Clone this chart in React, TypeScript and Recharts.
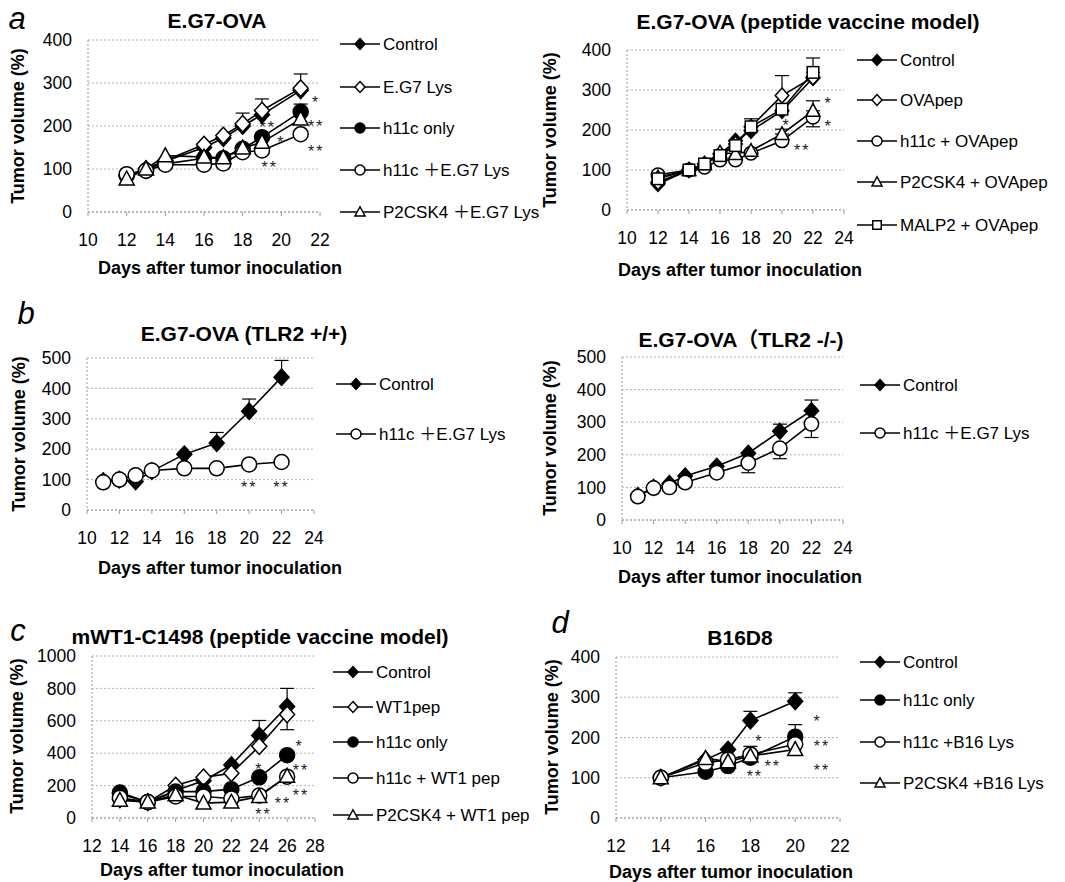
import React from 'react';
import { LineChart, Line, XAxis, YAxis, CartesianGrid, ErrorBar, Legend, ReferenceDot } from 'recharts';

const FONT = '"Liberation Sans", Arial, "Noto Sans CJK JP", sans-serif';

// ---------- Panel a (left): E.G7-OVA ----------
const a1Days = [12, 13, 14, 16, 17, 18, 19, 21];
const a1Control = [82, 97, 118, 150, 172, 200, 226, 283];
const a1Eg7Lys = [85, 100, 120, 157, 178, 205, 236, 288];
const a1H11cOnly = [85, 96, 112, 125, 125, 147, 174, 233];
const a1H11cEg7Lys = [88, 96, 110, 110, 113, 139, 143, 181];
const a1P2csk4Eg7Lys = [77, 100, 131, 128, 126, 149, 162, 216];
const a1Eg7LysUp = [0, 0, 0, 0, 0, 25, 27, 33];
const a1H11cOnlyUp = [0, 0, 0, 0, 0, 0, 0, 18];

// ---------- Panel a (right): peptide vaccine model ----------
const a2Days = [12, 14, 15, 16, 17, 18, 20, 22];
const a2Control = [65, 100, 115, 140, 173, 198, 248, 330];
const a2OvaPep = [70, 100, 115, 140, 165, 208, 286, 332];
const a2H11cOvaPep = [88, 100, 107, 125, 125, 142, 173, 232];
const a2P2csk4OvaPep = [82, 100, 115, 144, 140, 148, 190, 248];
const a2Malp2OvaPep = [78, 100, 115, 136, 161, 208, 252, 344];
const a2OvaPepUp = [0, 0, 0, 0, 0, 0, 50, 0];
const a2Malp2Up = [0, 0, 0, 0, 0, 20, 0, 36];
const a2P2csk4Up = [0, 0, 0, 0, 0, 0, 12, 25];
const a2H11cLo = [0, 0, 0, 0, 0, 0, 0, 24];

// ---------- Panel b (left): TLR2 +/+ ----------
const b1Days = [11, 12, 13, 14, 16, 18, 20, 22];
const b1Control = [95, 100, 94, 128, 183, 220, 325, 437];
const b1H11cEg7Lys = [91, 100, 114, 130, 137, 137, 150, 158];
const b1ControlUp = [0, 0, 0, 0, 0, 35, 40, 55];

// ---------- Panel b (right): TLR2 -/- ----------
const b2Days = [11, 12, 13, 14, 16, 18, 20, 22];
const b2Control = [75, 100, 112, 135, 165, 205, 272, 335];
const b2H11cEg7Lys = [72, 98, 100, 115, 145, 175, 220, 295];
const b2ControlUp = [0, 0, 0, 0, 0, 0, 22, 33];
const b2H11cLo = [0, 0, 0, 0, 0, 30, 32, 42];

// ---------- Panel c: mWT1-C1498 ----------
const cDays = [14, 16, 18, 20, 22, 24, 26];
const cControl = [150, 98, 170, 230, 327, 510, 688];
const cWt1Pep = [115, 98, 200, 251, 276, 443, 639];
const cH11cOnly = [157, 98, 163, 163, 178, 251, 388];
const cH11cWt1Pep = [125, 98, 133, 133, 120, 139, 255];
const cP2csk4Wt1Pep = [110, 98, 143, 92, 98, 133, 258];
const cControlUp = [0, 0, 0, 0, 0, 92, 112];
const cWt1PepLo = [0, 0, 0, 0, 0, 0, 94];

// ---------- Panel d: B16D8 ----------
const dDays = [14, 16, 17, 18, 20];
const dControl = [100, 145, 170, 242, 290];
const dH11cOnly = [100, 115, 129, 150, 202];
const dH11cB16Lys = [100, 137, 145, 158, 183];
const dP2csk4B16Lys = [100, 148, 140, 154, 170];
const dControlUp = [0, 0, 0, 23, 21];
const dH11cOnlyUp = [0, 0, 0, 0, 30];
const dH11cB16Up = [0, 0, 0, 20, 0];

type Shape = 'fdiamond' | 'odiamond' | 'fcircle' | 'ocircle' | 'triangle' | 'square';

interface SeriesDef {
  key: string;
  name: string;
  shape: Shape;
  values: number[];
  up?: number[];
  lo?: number[];
}

interface Star { x: number; y: number; t: string }

interface PanelDef {
  id: string;
  days: number[];
  series: SeriesDef[];
  plot: { l: number; r: number; t: number; b: number };
  xDomain: [number, number];
  xTicks: number[];
  yDomain: [number, number];
  yTicks: number[];
  size: number;
  legend: { x: number; ys: number[] };
  stars: Star[];
}

function Marker({ cx, cy, shape, size }: { cx: number; cy: number; shape: Shape; size: number }) {
  const s = size;
  const sw = 1.5;
  if (cx == null || cy == null || isNaN(cx) || isNaN(cy)) return null;
  switch (shape) {
    case 'fdiamond':
      return <polygon points={`${cx},${cy - s * 1.1} ${cx + s},${cy} ${cx},${cy + s * 1.1} ${cx - s},${cy}`} fill="#000" stroke="#000" strokeWidth={sw} />;
    case 'odiamond':
      return <polygon points={`${cx},${cy - s * 1.1} ${cx + s},${cy} ${cx},${cy + s * 1.1} ${cx - s},${cy}`} fill="#fff" stroke="#000" strokeWidth={sw} />;
    case 'fcircle':
      return <circle cx={cx} cy={cy} r={s} fill="#000" stroke="#000" strokeWidth={sw} />;
    case 'ocircle':
      return <circle cx={cx} cy={cy} r={s} fill="#fff" stroke="#000" strokeWidth={sw} />;
    case 'triangle':
      return <polygon points={`${cx},${cy - s * 1.05} ${cx + s},${cy + s * 0.8} ${cx - s},${cy + s * 0.8}`} fill="#fff" stroke="#000" strokeWidth={sw} />;
    case 'square':
      return <rect x={cx - s * 0.85} y={cy - s * 0.85} width={s * 1.7} height={s * 1.7} fill="#fff" stroke="#000" strokeWidth={sw} />;
    default:
      return null;
  }
}

const panels: PanelDef[] = [
  {
    id: 'a1',
    days: a1Days,
    series: [
      { key: 'control', name: 'Control', shape: 'fdiamond', values: a1Control },
      { key: 'eg7', name: 'E.G7 Lys', shape: 'odiamond', values: a1Eg7Lys, up: a1Eg7LysUp },
      { key: 'h11c', name: 'h11c only', shape: 'fcircle', values: a1H11cOnly, up: a1H11cOnlyUp },
      { key: 'h11cEg7', name: 'h11c ＋E.G7 Lys', shape: 'ocircle', values: a1H11cEg7Lys },
      { key: 'p2Eg7', name: 'P2CSK4 ＋E.G7 Lys', shape: 'triangle', values: a1P2csk4Eg7Lys },
    ],
    plot: { l: 88, r: 320, t: 40, b: 212 },
    xDomain: [10, 22],
    xTicks: [10, 12, 14, 16, 18, 20, 22],
    yDomain: [0, 400],
    yTicks: [0, 100, 200, 300, 400],
    size: 7.5,
    legend: { x: 340, ys: [44, 87, 128, 170, 212] },
    stars: [
      { x: 19.3, y: 205, t: '**' },
      { x: 20.0, y: 170, t: '*' },
      { x: 19.4, y: 112, t: '**' },
      { x: 21.8, y: 262, t: '*' },
      { x: 21.8, y: 207, t: '**' },
      { x: 21.8, y: 150, t: '**' },
    ],
  },
  {
    id: 'a2',
    days: a2Days,
    series: [
      { key: 'control', name: 'Control', shape: 'fdiamond', values: a2Control },
      { key: 'ova', name: 'OVApep', shape: 'odiamond', values: a2OvaPep, up: a2OvaPepUp },
      { key: 'h11cOva', name: 'h11c + OVApep', shape: 'ocircle', values: a2H11cOvaPep, lo: a2H11cLo },
      { key: 'p2Ova', name: 'P2CSK4 + OVApep', shape: 'triangle', values: a2P2csk4OvaPep, up: a2P2csk4Up },
      { key: 'malp2Ova', name: 'MALP2 + OVApep', shape: 'square', values: a2Malp2OvaPep, up: a2Malp2Up },
    ],
    plot: { l: 627, r: 844, t: 50, b: 210 },
    xDomain: [10, 24],
    xTicks: [10, 12, 14, 16, 18, 20, 22, 24],
    yDomain: [0, 400],
    yTicks: [0, 100, 200, 300, 400],
    size: 6.8,
    legend: { x: 857, ys: [60, 100, 141, 182, 225] },
    stars: [
      { x: 23.0, y: 275, t: '*' },
      { x: 23.0, y: 217, t: '*' },
      { x: 20.3, y: 220, t: '*' },
      { x: 21.3, y: 158, t: '**' },
    ],
  },
  {
    id: 'b1',
    days: b1Days,
    series: [
      { key: 'control', name: 'Control', shape: 'fdiamond', values: b1Control, up: b1ControlUp },
      { key: 'h11cEg7', name: 'h11c ＋E.G7 Lys', shape: 'ocircle', values: b1H11cEg7Lys },
    ],
    plot: { l: 87, r: 314, t: 358, b: 510 },
    xDomain: [10, 24],
    xTicks: [10, 12, 14, 16, 18, 20, 22, 24],
    yDomain: [0, 500],
    yTicks: [0, 100, 200, 300, 400, 500],
    size: 7.5,
    legend: { x: 336, ys: [384, 434] },
    stars: [
      { x: 20, y: 85, t: '**' },
      { x: 22, y: 85, t: '**' },
    ],
  },
  {
    id: 'b2',
    days: b2Days,
    series: [
      { key: 'control', name: 'Control', shape: 'fdiamond', values: b2Control, up: b2ControlUp },
      { key: 'h11cEg7', name: 'h11c ＋E.G7 Lys', shape: 'ocircle', values: b2H11cEg7Lys, lo: b2H11cLo },
    ],
    plot: { l: 622, r: 843, t: 357, b: 520 },
    xDomain: [10, 24],
    xTicks: [10, 12, 14, 16, 18, 20, 22, 24],
    yDomain: [0, 500],
    yTicks: [0, 100, 200, 300, 400, 500],
    size: 7.2,
    legend: { x: 860, ys: [385, 433] },
    stars: [],
  },
  {
    id: 'c',
    days: cDays,
    series: [
      { key: 'control', name: 'Control', shape: 'fdiamond', values: cControl, up: cControlUp },
      { key: 'wt1', name: 'WT1pep', shape: 'odiamond', values: cWt1Pep, lo: cWt1PepLo },
      { key: 'h11c', name: 'h11c only', shape: 'fcircle', values: cH11cOnly },
      { key: 'h11cWt1', name: 'h11c + WT1 pep', shape: 'ocircle', values: cH11cWt1Pep },
      { key: 'p2Wt1', name: 'P2CSK4 + WT1 pep', shape: 'triangle', values: cP2csk4Wt1Pep },
    ],
    plot: { l: 92, r: 315, t: 656, b: 818 },
    xDomain: [12, 28],
    xTicks: [12, 14, 16, 18, 20, 22, 24, 26, 28],
    yDomain: [0, 1000],
    yTicks: [0, 200, 400, 600, 800, 1000],
    size: 7.5,
    legend: { x: 333, ys: [672, 707, 742, 778, 815] },
    stars: [
      { x: 24, y: 322, t: '*' },
      { x: 26.9, y: 463, t: '*' },
      { x: 27.0, y: 315, t: '**' },
      { x: 27.0, y: 162, t: '**' },
      { x: 25.7, y: 111, t: '**' },
      { x: 24.3, y: 45, t: '**' },
    ],
  },
  {
    id: 'd',
    days: dDays,
    series: [
      { key: 'control', name: 'Control', shape: 'fdiamond', values: dControl, up: dControlUp },
      { key: 'h11c', name: 'h11c only', shape: 'fcircle', values: dH11cOnly, up: dH11cOnlyUp },
      { key: 'h11cB16', name: 'h11c +B16 Lys', shape: 'ocircle', values: dH11cB16Lys, up: dH11cB16Up },
      { key: 'p2B16', name: 'P2CSK4 +B16 Lys', shape: 'triangle', values: dP2csk4B16Lys },
    ],
    plot: { l: 616, r: 840, t: 657, b: 818 },
    xDomain: [12, 22],
    xTicks: [12, 14, 16, 18, 20, 22],
    yDomain: [0, 400],
    yTicks: [0, 100, 200, 300, 400],
    size: 7.5,
    legend: { x: 860, ys: [662, 700, 742, 783] },
    stars: [
      { x: 21.0, y: 248, t: '*' },
      { x: 21.2, y: 186, t: '**' },
      { x: 21.2, y: 127, t: '**' },
      { x: 18.4, y: 199, t: '*' },
      { x: 19.0, y: 137, t: '**' },
      { x: 18.2, y: 112, t: '**' },
    ],
  },
];

const YW = 60;
const MT = 12;
const XH = 50;

function Panel({ p }: { p: PanelDef }) {
  const chartLeft = p.plot.l - YW;
  const chartTop = p.plot.t - MT;
  const width = Math.min(p.legend.x + 205, 1062) - chartLeft;
  const height = MT + (p.plot.b - p.plot.t) + XH;
  const marginRight = width - (p.plot.r - chartLeft);

  const data = p.days.map((d, i) => {
    const row: Record<string, unknown> = { day: d };
    p.series.forEach((s) => {
      row[s.key] = s.values[i];
      const up = s.up ? s.up[i] : 0;
      const lo = s.lo ? s.lo[i] : 0;
      if (up || lo) row[s.key + 'Err'] = [lo, up];
    });
    return row;
  });

  const axisStyle = { stroke: '#9a9a9a', strokeDasharray: '2 2' };
  const tickStyle = { fill: '#000', fontSize: 17.5, fontFamily: FONT };

  const legendContent = () => (
    <svg width={230} height={height} style={{ overflow: 'visible', display: 'block' }}>
      {p.series.map((s, i) => {
        const y = p.legend.ys[i] - chartTop;
        return (
          <g key={s.key}>
            <line x1={0} x2={40} y1={y} y2={y} stroke="#000" strokeWidth={1.5} />
            <Marker cx={20} cy={y} shape={s.shape} size={5} />
            <text x={43} y={y + 6} fontSize={17} fontFamily={FONT} fill="#000">
              {s.name}
            </text>
          </g>
        );
      })}
    </svg>
  );

  return (
    <div style={{ position: 'absolute', left: chartLeft, top: chartTop }}>
      <LineChart width={width} height={height} data={data} margin={{ top: MT, right: marginRight, bottom: 0, left: 0 }}>
        <CartesianGrid vertical={false} stroke="#b4b4b4" strokeDasharray="2 2" />
        <XAxis
          type="number"
          dataKey="day"
          domain={p.xDomain}
          ticks={p.xTicks}
          interval={0}
          height={XH}
          axisLine={axisStyle}
          tickLine={{ stroke: '#9a9a9a' }}
          tickSize={4}
          tickMargin={18}
          tick={tickStyle}
        />
        <YAxis
          type="number"
          domain={p.yDomain}
          ticks={p.yTicks}
          interval={0}
          width={YW}
          axisLine={axisStyle}
          tickLine={false}
          tickMargin={10}
          tick={tickStyle}
        />
        {p.series.map((s) => (
          <Line
            key={s.key}
            dataKey={s.key}
            name={s.name}
            type="linear"
            stroke="#000"
            strokeWidth={1.6}
            isAnimationActive={false}
            activeDot={false}
            dot={(props: any) => (
              <Marker key={`${s.key}-${props.index}`} cx={props.cx} cy={props.cy} shape={s.shape} size={p.size} />
            )}
          >
            {(s.up || s.lo) && (
              <ErrorBar dataKey={s.key + 'Err'} width={7} stroke="#000" strokeWidth={1.2} direction="y" />
            )}
          </Line>
        ))}
        {p.stars.map((st, i) => (
          <ReferenceDot
            key={`star-${i}`}
            x={st.x}
            y={st.y}
            r={1}
            isFront
            shape={(props: any) => (
              <text
                x={props.cx}
                y={props.cy + 9}
                textAnchor="middle"
                fontSize={16}
                letterSpacing={2}
                fontFamily={FONT}
                fill="#222"
              >
                {st.t}
              </text>
            )}
          />
        ))}
        <Legend
          layout="vertical"
          align="center"
          verticalAlign="middle"
          wrapperStyle={{ position: 'absolute', left: p.legend.x - chartLeft, top: 0, width: 230, height }}
          content={legendContent}
        />
      </LineChart>
    </div>
  );
}

interface TextItem { t: string; x: number; y: number; kind: 'letter' | 'title' | 'xlabel' | 'ylabel' }

const textItems: TextItem[] = [
  { t: 'a', x: 17, y: 19, kind: 'letter' },
  { t: 'b', x: 26, y: 314, kind: 'letter' },
  { t: 'c', x: 18, y: 631, kind: 'letter' },
  { t: 'd', x: 560, y: 623, kind: 'letter' },
  { t: 'E.G7-OVA', x: 217, y: 21, kind: 'title' },
  { t: 'E.G7-OVA (peptide vaccine model)', x: 808, y: 22, kind: 'title' },
  { t: 'E.G7-OVA (TLR2 +/+)', x: 244, y: 334, kind: 'title' },
  { t: 'E.G7-OVA（TLR2 -/-)', x: 741, y: 340, kind: 'title' },
  { t: 'mWT1-C1498 (peptide vaccine model)', x: 260, y: 637, kind: 'title' },
  { t: 'B16D8', x: 740, y: 638, kind: 'title' },
  { t: 'Days after tumor inoculation', x: 220, y: 268, kind: 'xlabel' },
  { t: 'Days after tumor inoculation', x: 740, y: 270, kind: 'xlabel' },
  { t: 'Days after tumor inoculation', x: 220, y: 568, kind: 'xlabel' },
  { t: 'Days after tumor inoculation', x: 740, y: 577, kind: 'xlabel' },
  { t: 'Days after tumor inoculation', x: 222, y: 870, kind: 'xlabel' },
  { t: 'Days after tumor inoculation', x: 731, y: 872, kind: 'xlabel' },
  { t: 'Tumor volume (%)', x: 18, y: 126, kind: 'ylabel' },
  { t: 'Tumor volume (%)', x: 550, y: 130, kind: 'ylabel' },
  { t: 'Tumor volume (%)', x: 19, y: 434, kind: 'ylabel' },
  { t: 'Tumor volume (%)', x: 550, y: 438, kind: 'ylabel' },
  { t: 'Tumor volume (%)', x: 17, y: 736, kind: 'ylabel' },
  { t: 'Tumor volume (%)', x: 552, y: 737, kind: 'ylabel' },
];

function styleFor(kind: TextItem['kind']): React.CSSProperties {
  switch (kind) {
    case 'letter':
      return { fontSize: 31, fontStyle: 'italic', fontWeight: 400 };
    case 'title':
      return { fontSize: 21, fontWeight: 700 };
    case 'xlabel':
      return { fontSize: 18, fontWeight: 700 };
    case 'ylabel':
      return { fontSize: 18, fontWeight: 700 };
  }
}

export default function App() {
  return (
    <div
      style={{
        position: 'absolute',
        left: 0,
        top: 0,
        width: 1065,
        height: 882,
        background: '#fff',
        overflow: 'hidden',
        fontFamily: FONT,
        color: '#000',
      }}
    >
      {panels.map((p) => (
        <Panel key={p.id} p={p} />
      ))}
      {textItems.map((ti, i) => (
        <div
          key={i}
          style={{
            position: 'absolute',
            left: ti.x,
            top: ti.y,
            transform: ti.kind === 'ylabel' ? 'translate(-50%, -50%) rotate(-90deg)' : 'translate(-50%, -50%)',
            whiteSpace: 'nowrap',
            lineHeight: 1.15,
            ...styleFor(ti.kind),
          }}
        >
          {ti.t}
        </div>
      ))}
    </div>
  );
}
